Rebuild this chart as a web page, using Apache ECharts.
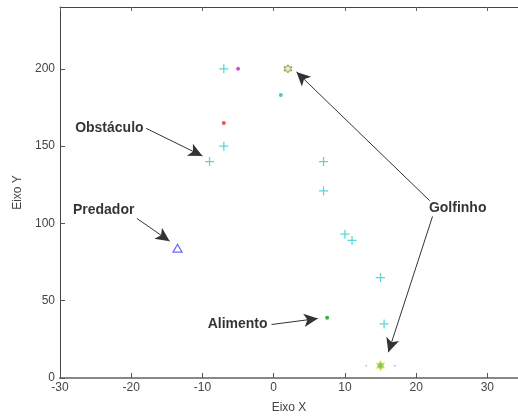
<!DOCTYPE html>
<html lang="pt">
<head>
    <meta charset="UTF-8">
    <title>Golfinho</title>
    <style>
        html, body { margin: 0; padding: 0; background: #fff; }
        #chart { width: 518px; height: 419px; }
    </style>
</head>
<body>
<div id="chart"></div>
<script src="https://cdn.jsdelivr.net/npm/echarts@6/dist/echarts.min.js"></script>
<script>
    // pontos
    var obstaculos = [[-7, 200], [-7, 150], [-9, 140], [7, 140], [7, 121], [10, 93], [11, 89], [15, 65], [15.5, 35]];
    var pontoMagenta = [[-5, 200]];
    var pontoVermelho = [[-7, 165]];
    var pontoCiano = [[1, 183]];
    var alimento = [[7.5, 39]];
    var predador = [[-13.5, 84]];
    var golfinhoTopo = [[2, 200]];
    var golfinhoBase = [[15, 8]];
    var rastroRosa = [[13, 8]];
    var rastroLilas = [[17, 8]];

    // anotações: [texto, x, y]  e setas: [x1, y1, x2, y2]
    var rotulos = [['Obstáculo', -23.0, 161.5], ['Predador', -23.8, 108.3], ['Alimento', -5.0, 34.6], ['Golfinho', 25.9, 109.5]];
    var setas = [[-17.9, 161.5, -10.0, 143.6], [-19.2, 103.2, -14.6, 88.5], [-0.3, 34.6, 6.2, 38.5], [21.9, 114.7, 3.2, 198], [22.3, 104.5, 16.1, 16.7]];

    var xTicks = [-30, -20, -10, 0, 10, 20, 30];
    var yTicks = [0, 50, 100, 150, 200];

    var plus = 'path://M4.3,0H5.7V10H4.3Z M0,4.3H10V5.7H0Z';
    var star = 'path://M5,0L6.4,2.6L9.3,2.5L7.9,5L9.3,7.5L6.4,7.4L5,10L3.6,7.4L0.7,7.5L2.1,5L0.7,2.5L3.6,2.6Z';

    var chart = echarts.init(document.getElementById('chart'));
    var tickFont = { fontFamily: 'Liberation Sans, Arial', fontSize: 12, color: '#444' };

    function dots(data, color, size) {
        return { type: 'scatter', data: data, symbol: 'circle', symbolSize: size, itemStyle: { color: color }, silent: true };
    }

    var option = {
        animation: false,
        grid: { left: 60, right: 0, top: 7, bottom: 38 },
        xAxis: [{
            type: 'value', min: -30, max: 34.3, interval: 10,
            name: 'Eixo X', nameLocation: 'middle', nameGap: 24,
            nameTextStyle: { fontFamily: 'Liberation Sans, Arial', fontSize: 12, color: '#444' },
            axisLine: { onZero: false, lineStyle: { color: '#888', width: 2 } },
            axisTick: { inside: true, length: 5, lineStyle: { color: '#555' } },
            axisLabel: Object.assign({ margin: 4, showMaxLabel: false, formatter: function (v) { return xTicks.indexOf(v) >= 0 ? v : ''; } }, tickFont),
            splitLine: { show: false }
        }, {
            type: 'value', position: 'top', min: -30, max: 34.3, interval: 10,
            axisLine: { show: true, onZero: false, lineStyle: { color: '#444', width: 1 } },
            axisTick: { inside: true, length: 4, lineStyle: { color: '#666' } },
            axisLabel: { show: false },
            splitLine: { show: false }
        }],
        yAxis: {
            type: 'value', min: 0, max: 240, interval: 50,
            name: 'Eixo Y', nameLocation: 'middle', nameGap: 34,
            nameTextStyle: { fontFamily: 'Liberation Sans, Arial', fontSize: 12, color: '#444' },
            axisLine: { show: true, onZero: false, lineStyle: { color: '#444', width: 1 } },
            axisTick: { inside: true, length: 5, lineStyle: { color: '#555' } },
            axisLabel: Object.assign({ margin: 5, showMaxLabel: false, formatter: function (v) { return yTicks.indexOf(v) >= 0 ? v : ''; } }, tickFont),
            splitLine: { show: false }
        },
        series: [
            { type: 'scatter', data: obstaculos, symbol: plus, symbolSize: 9, itemStyle: { color: '#30cccc' }, silent: true },
            dots(pontoMagenta, '#cc22cc', 4),
            dots(pontoVermelho, '#ee2222', 4),
            dots(pontoCiano, '#22bbbb', 4),
            dots(alimento, '#119911', 4),
            dots(rastroRosa, '#f4a0a0', 2),
            dots(rastroLilas, '#c0a0f0', 2),
            { type: 'scatter', data: predador, symbol: 'triangle', symbolSize: [9, 8],
              itemStyle: { color: '#fff', borderColor: '#4444ff', borderWidth: 1.2 }, silent: true },
            { type: 'scatter', data: golfinhoTopo, symbol: star, symbolSize: 8,
              itemStyle: { color: '#e8e8b0', borderColor: '#7a7a20', borderWidth: 1 }, silent: true },
            { type: 'scatter', data: golfinhoBase, symbol: star, symbolSize: [7, 9],
              itemStyle: { color: '#5cb83a', borderColor: '#d8d830', borderWidth: 1.2 }, silent: true },
            {
                type: 'scatter', silent: true, symbolSize: 1,
                itemStyle: { color: 'rgba(0,0,0,0)' },
                data: rotulos.map(function (r) { return { name: r[0], value: [r[1], r[2]] }; }),
                label: {
                    show: true, position: [0, 0], align: 'center', verticalAlign: 'middle', formatter: '{b}',
                    fontFamily: 'Liberation Sans, Arial', fontWeight: 'bold', fontSize: 14, color: '#000',
                    textBorderWidth: 0
                },
                markLine: {
                    silent: true, symbol: ['none', 'arrow'], symbolSize: [10, 14],
                    lineStyle: { color: '#333', width: 1, type: 'solid' },
                    itemStyle: { color: '#000' },
                    label: { show: false },
                    data: setas.map(function (s) { return [{ coord: [s[0], s[1]] }, { coord: [s[2], s[3]] }]; })
                }
            }
        ]
    };
    chart.setOption(option);
</script>
</body>
</html>
